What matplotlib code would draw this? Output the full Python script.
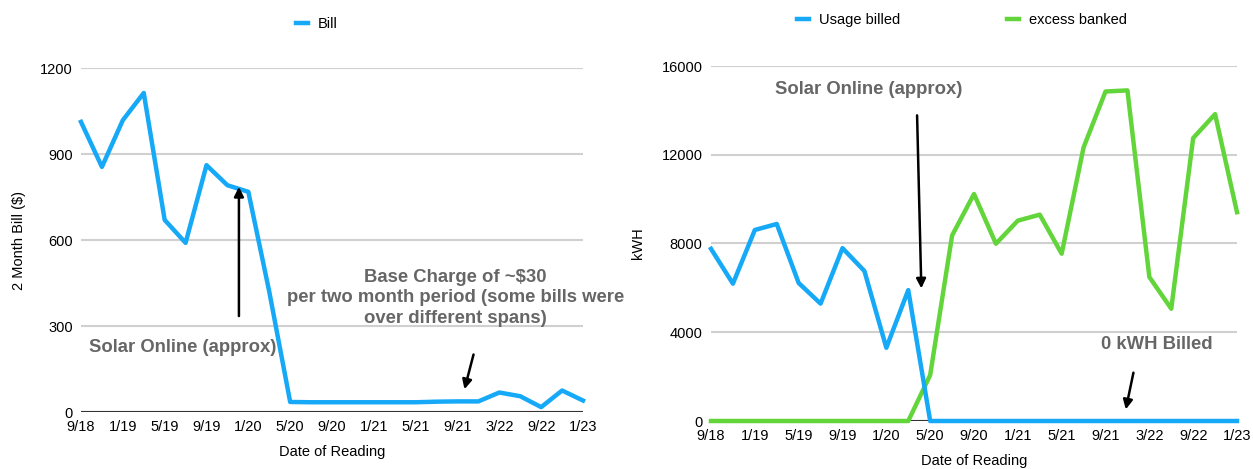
import matplotlib.pyplot as plt

plt.rcParams['font.family'] = ['Liberation Sans', 'DejaVu Sans']

# reading dates (one every ~2 months); only every other one gets a label
tick_labels = ['9/18', '1/19', '5/19', '9/19', '1/20', '5/20', '9/20',
               '1/21', '5/21', '9/21', '3/22', '9/22', '1/23']

bill = [1012, 855, 1018, 1113, 670, 590, 861, 791, 768, 420, 35,
        34, 34, 34, 34, 34, 34, 36, 37, 37, 68, 55, 17, 75, 40]

usage_billed = [7760, 6190, 8610, 8880, 6220, 5290, 7790, 6760, 3300, 5900,
                0, 0, 0, 0, 0, 0, 0, 0, 0, 0, 0, 0, 0, 0, 0]
excess_banked = [0, 0, 0, 0, 0, 0, 0, 0, 0, 0,
                 2070, 8360, 10230, 7990, 9030, 9300, 7540, 12330, 14850,
                 14900, 6490, 5060, 12750, 13830, 9410]

blue = '#16a9f7'
green = '#62d53b'
grid_c = '#d0d0d0'
note_c = '#666666'

fig = plt.figure(figsize=(12.53, 4.69), dpi=100)
ax1 = fig.add_axes([81 / 1253, 57 / 469, 502 / 1253, 344 / 469])
ax2 = fig.add_axes([711 / 1253, 48 / 469, 526 / 1253, 355 / 469])


def style(ax, ymax, yticks):
    ax.set_xlim(0, len(bill) - 1)
    ax.set_ylim(0, ymax)
    ax.set_yticks(yticks)
    ax.set_xticks(range(0, len(bill), 2))
    ax.set_xticklabels(tick_labels)
    for s in ax.spines.values():
        s.set_visible(False)
    ax.grid(axis='y', color=grid_c, lw=1.5)
    ax.set_axisbelow(True)
    ax.axhline(0, color='#333333', lw=1.5, zorder=1)
    ax.tick_params(length=0, labelsize=10.5, pad=6)
    ax.set_xlabel('Date of Reading', fontsize=10.5, labelpad=8)


def arrow(ax, start, end):
    ax.annotate('', xy=end, xytext=start,
                arrowprops=dict(arrowstyle='-|>', color='black', lw=1.8,
                                mutation_scale=14))


x = range(len(bill))

style(ax1, 1200, [0, 300, 600, 900, 1200])
l_bill, = ax1.plot(x, bill, color=blue, lw=3.2, label='Bill',
                   clip_on=False, zorder=3)
ax1.set_ylabel('2 Month Bill ($)', fontsize=10.5, labelpad=10)
fig.legend(handles=[l_bill], loc='center',
           bbox_to_anchor=(317 / 1253, 1 - 24 / 469), frameon=False,
           fontsize=10.5, handlelength=0.8, handletextpad=0.7)
arrow(ax1, (7.55, 325), (7.55, 795))
ax1.text(0.4, 225, 'Solar Online (approx)', fontsize=13.3, fontweight='bold',
         color=note_c, va='center')
ax1.text(17.9, 398, 'Base Charge of ~$30\nper two month period (some bills were\nover different spans)',
         fontsize=13.3, fontweight='bold', color=note_c, ha='center',
         va='center', linespacing=1.3)
arrow(ax1, (18.8, 210), (18.3, 70))

style(ax2, 16000, [0, 4000, 8000, 12000, 16000])
l_use, = ax2.plot(x, usage_billed, color=blue, lw=3.2, label='Usage billed',
                  clip_on=False, zorder=4)
l_exc, = ax2.plot(x, excess_banked, color=green, lw=3.2, label='excess banked',
                  clip_on=False, zorder=3)
ax2.set_ylabel('kWH', fontsize=10.5, labelpad=12)
fig.legend(handles=[l_use, l_exc], loc='center', ncol=2,
           bbox_to_anchor=(962 / 1253, 1 - 20 / 469), frameon=False,
           fontsize=10.5, handlelength=0.8, handletextpad=0.7,
           columnspacing=7.3)
arrow(ax2, (9.4, 13900), (9.6, 5850))
ax2.text(7.2, 14950, 'Solar Online (approx)', fontsize=13.3, fontweight='bold',
         color=note_c, ha='center', va='center')
ax2.text(20.35, 3450, '0 kWH Billed', fontsize=13.3, fontweight='bold',
         color=note_c, ha='center', va='center')
arrow(ax2, (19.3, 2300), (18.9, 400))

fig.savefig('out.png', dpi=100)
